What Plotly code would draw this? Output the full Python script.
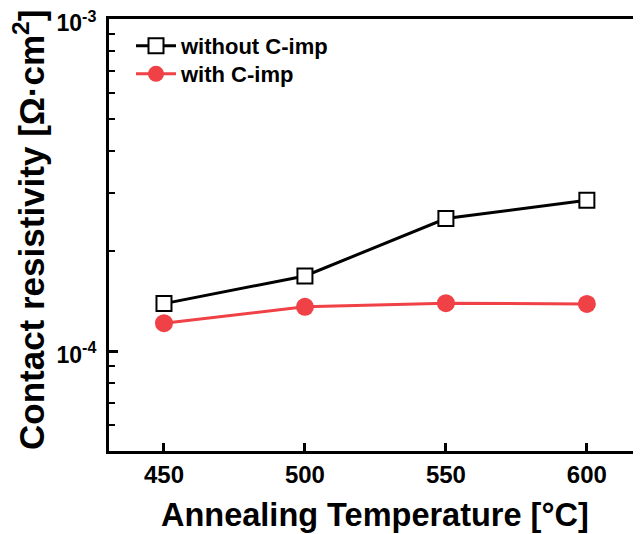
import plotly.graph_objects as go

temps = [450, 500, 550, 600]
without_cimp = [1.39e-4, 1.684e-4, 2.508e-4, 2.847e-4]
with_cimp = [1.214e-4, 1.359e-4, 1.394e-4, 1.387e-4]
x_ticks = [450, 500, 550, 600]
y_major = [1e-4, 1e-3]
y_major_text = ["10<sup>-4</sup>", "10<sup>-3</sup>"]
y_minor = [5e-5, 6e-5, 7e-5, 8e-5, 9e-5, 2e-4, 3e-4, 4e-4, 5e-4, 6e-4, 7e-4, 8e-4, 9e-4]

FONT = "Arial, Liberation Sans, sans-serif"
RED = "rgb(239,65,70)"

fig = go.Figure()
fig.add_trace(go.Scatter(
    x=temps, y=without_cimp, mode="lines+markers", name="<b>without C-imp</b>",
    line=dict(color="black", width=3), legend="legend",
    marker=dict(symbol="square", size=15, color="white", line=dict(color="black", width=2)),
))
fig.add_trace(go.Scatter(
    x=temps, y=with_cimp, mode="lines+markers", name="<b>with C-imp</b>",
    line=dict(color=RED, width=3), legend="legend2",
    marker=dict(symbol="circle", size=18, color=RED, line=dict(width=0)),
))

# the page body adds an 8px offset; work in reference pixel coordinates minus 8
OFF = 8
W, H = 641 - OFF, 534 - OFF
L, R, T = 109 - OFF, 0, 19 - OFF
BOT = 451 - OFF
B = H - BOT
pw = W - L - R
ph = BOT - T


def px_x(x):
    return (x - OFF - L) / pw


def px_y(y):
    return (BOT - (y - OFF)) / ph


legend_common = dict(
    xanchor="left", yanchor="middle", bgcolor="rgba(0,0,0,0)",
    font=dict(size=22, family=FONT, color="black"), itemwidth=40,
)

fig.update_layout(
    width=W, height=H,
    margin=dict(l=L, r=R, t=T, b=B, autoexpand=False),
    paper_bgcolor="white", plot_bgcolor="white",
    font=dict(family=FONT, color="black"),
    showlegend=True,
    legend=dict(x=px_x(131), y=px_y(46), **legend_common),
    legend2=dict(x=px_x(131), y=px_y(74), **legend_common),
    xaxis=dict(
        range=[430.5, 619.2], tickvals=x_ticks, ticktext=[f"<b>{v}</b>" for v in x_ticks],
        ticks="inside", ticklen=8, tickwidth=3, tickcolor="black",
        showline=True, linewidth=3, linecolor="black", mirror=True,
        showgrid=False, zeroline=False,
        tickfont=dict(size=24, family=FONT, color="black"),
    ),
    yaxis=dict(
        type="log", range=[-4.301, -2.9995],
        tickvals=y_major, ticktext=[f"<b>{t}</b>" for t in y_major_text],
        ticks="inside", ticklen=9, tickwidth=3, tickcolor="black",
        ticklabeloverflow="allow", ticklabelstandoff=5, ticklabelshift=4,
        minor=dict(tickvals=y_minor, ticks="inside", ticklen=6, tickwidth=2, tickcolor="black"),
        showline=True, linewidth=3, linecolor="black", mirror=False,
        showgrid=False, zeroline=False,
        tickfont=dict(size=23, family=FONT, color="black"),
    ),
)

fig.add_annotation(
    text="<b>Annealing Temperature [°C]</b>", xref="paper", yref="paper",
    x=px_x(375), y=px_y(515), xanchor="center", yanchor="middle",
    showarrow=False, font=dict(size=32.5, family=FONT, color="black"),
)
fig.add_annotation(
    text="<b>Contact resistivity [Ω·cm<sup>2</sup>]</b>", xref="paper", yref="paper",
    x=px_x(29), y=px_y(230), xanchor="center", yanchor="middle",
    textangle=-90, showarrow=False, font=dict(size=35, family=FONT, color="black"),
)

fig.write_html("out.html")
